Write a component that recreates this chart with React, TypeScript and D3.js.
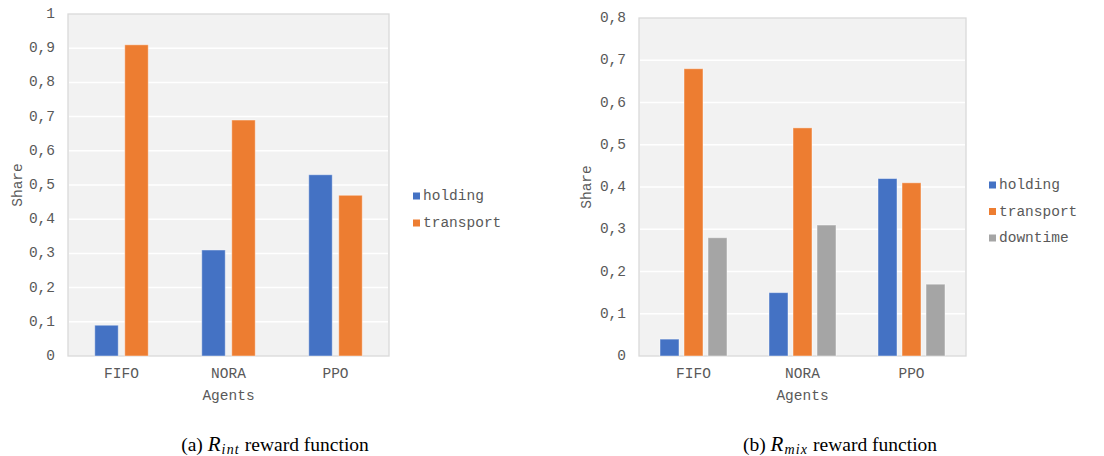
import * as d3 from "d3";

// Agents on the x axis
const agents = ["FIFO", "NORA", "PPO"];

// (a) R_int reward function
const intSeries = ["holding", "transport"];
const intHolding = [0.09, 0.31, 0.53];
const intTransport = [0.91, 0.69, 0.47];
const intTicks = [0, 0.1, 0.2, 0.3, 0.4, 0.5, 0.6, 0.7, 0.8, 0.9, 1];

// (b) R_mix reward function
const mixSeries = ["holding", "transport", "downtime"];
const mixHolding = [0.04, 0.15, 0.42];
const mixTransport = [0.68, 0.54, 0.41];
const mixDowntime = [0.28, 0.31, 0.17];
const mixTicks = [0, 0.1, 0.2, 0.3, 0.4, 0.5, 0.6, 0.7, 0.8];

const colors: Record<string, string> = {
  holding: "#4472C4",
  transport: "#ED7D31",
  downtime: "#A5A5A5",
};

const MONO = "'Liberation Mono', 'Courier New', monospace";
const SERIF = "'Liberation Serif', 'Times New Roman', serif";
const FS = 14.5;

const fmt = (v: number) => (v === 0 || v === 1 ? String(v) : d3.format(".1f")(v).replace(".", ","));

interface PanelProps {
  left: number;
  right: number;
  top: number;
  bottom: number;
  yMax: number;
  ticks: number[];
  series: string[];
  values: number[][];
  barW: number;
  barGap: number;
  legendX: number;
  legendY: number;
  legendStep: number;
  shareX: number;
  captionX: number;
  captionLetter: string;
  sub: string;
}

function Panel(p: PanelProps) {
  const x = d3.scaleBand<string>().domain(agents).range([p.left, p.right]);
  const y = d3.scaleLinear().domain([0, p.yMax]).range([p.bottom, p.top]);
  const n = p.series.length;
  const groupW = n * p.barW + (n - 1) * p.barGap;
  const inner = d3
    .scaleBand<string>()
    .domain(p.series)
    .range([0, groupW])
    .paddingInner(p.barGap / (p.barW + p.barGap));

  return (
    <g>
      <rect
        x={p.left}
        y={p.top}
        width={p.right - p.left}
        height={p.bottom - p.top}
        fill="#F2F2F2"
        stroke="#D9D9D9"
        strokeWidth={1.3}
      />
      {p.ticks.map((t) => (
        <g key={t}>
          {t > 0 && t < p.yMax && (
            <line x1={p.left + 1} x2={p.right - 1} y1={y(t)} y2={y(t)} stroke="#fff" strokeWidth={1.5} />
          )}
          <text
            x={p.left - 13}
            y={y(t)}
            textAnchor="end"
            dominantBaseline="central"
            fontFamily={MONO}
            fontSize={FS}
            fill="#595959"
          >
            {fmt(t)}
          </text>
        </g>
      ))}
      {agents.map((a, i) => {
        const gx = (x(a) as number) + x.bandwidth() / 2 - groupW / 2;
        return (
          <g key={a}>
            {p.series.map((s, j) => (
              <rect
                key={s}
                x={gx + (inner(s) as number)}
                y={y(p.values[j][i])}
                width={inner.bandwidth()}
                height={p.bottom - y(p.values[j][i])}
                fill={colors[s]}
                stroke="rgba(255,255,255,0.45)"
                strokeWidth={1}
              />
            ))}
            <text
              x={(x(a) as number) + x.bandwidth() / 2}
              y={374}
              textAnchor="middle"
              dominantBaseline="central"
              fontFamily={MONO}
              fontSize={FS}
              fill="#595959"
            >
              {a}
            </text>
          </g>
        );
      })}
      <text
        x={(p.left + p.right) / 2}
        y={396}
        textAnchor="middle"
        dominantBaseline="central"
        fontFamily={MONO}
        fontSize={FS}
        fill="#595959"
      >
        Agents
      </text>
      <text
        transform={`translate(${p.shareX},${(p.top + p.bottom) / 2}) rotate(-90)`}
        textAnchor="middle"
        dominantBaseline="central"
        fontFamily={MONO}
        fontSize={FS}
        fill="#595959"
      >
        Share
      </text>
      {p.series.map((s, j) => (
        <g key={s} transform={`translate(${p.legendX},${p.legendY + j * p.legendStep})`}>
          <rect x={0} y={-3.5} width={7} height={7} fill={colors[s]} />
          <text x={10} y={0} dominantBaseline="central" fontFamily={MONO} fontSize={FS} fill="#595959">
            {s}
          </text>
        </g>
      ))}
      <text x={p.captionX} y={451} textAnchor="middle" fontFamily={SERIF} fontSize={19.5} fill="#000">
        ({p.captionLetter}){" "}
        <tspan fontStyle="italic" fontSize={21}>R</tspan>
        <tspan fontStyle="italic" fontSize={14} dx={1} dy={2.5} letterSpacing={1.2}>{p.sub}</tspan>
        <tspan dy={-2.5}> reward function</tspan>
      </text>
    </g>
  );
}

export default function App() {
  return (
    <svg
      width={1104}
      height={456}
      viewBox="0 0 1104 456"
      style={{ position: "absolute", left: 0, top: 0, display: "block", background: "#fff" }}
    >
      <Panel
        left={68}
        right={389}
        top={14}
        bottom={356}
        yMax={1}
        ticks={intTicks}
        series={intSeries}
        values={[intHolding, intTransport]}
        barW={23.5}
        barGap={6.5}
        legendX={413}
        legendY={196}
        legendStep={27}
        shareX={18}
        captionX={275}
        captionLetter="a"
        sub="int"
      />
      <Panel
        left={639}
        right={966}
        top={18}
        bottom={356}
        yMax={0.8}
        ticks={mixTicks}
        series={mixSeries}
        values={[mixHolding, mixTransport, mixDowntime]}
        barW={19}
        barGap={5}
        legendX={989}
        legendY={185}
        legendStep={26.5}
        shareX={587}
        captionX={840}
        captionLetter="b"
        sub="mix"
      />
    </svg>
  );
}
